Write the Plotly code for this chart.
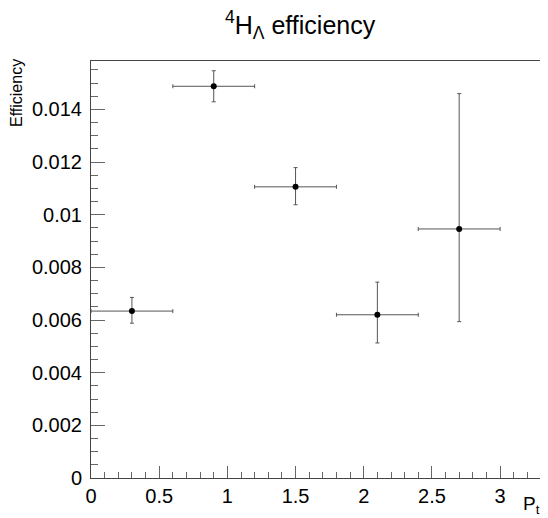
import plotly.graph_objects as go

# bin centres and half widths (Pt)
pt = [0.3, 0.9, 1.5, 2.1, 2.7]
pt_err = [0.3, 0.3, 0.3, 0.3, 0.3]

# efficiency with asymmetric errors
eff = [0.00634, 0.01488, 0.01106, 0.00620, 0.00946]
eff_up = [0.00052, 0.00059, 0.00073, 0.00124, 0.00514]
eff_down = [0.00046, 0.00059, 0.00068, 0.00107, 0.00352]

x_ticks = [0, 0.5, 1, 1.5, 2, 2.5, 3]
x_ticklabels = ["0", "0.5", "1", "1.5", "2", "2.5", "3"]
y_ticks = [0, 0.002, 0.004, 0.006, 0.008, 0.01, 0.012, 0.014]
y_ticklabels = ["0", "0.002", "0.004", "0.006", "0.008", "0.01", "0.012", "0.014"]

font = "Liberation Sans, Arial, sans-serif"
bar_col = "#555555"

fig = go.Figure()
fig.add_trace(go.Scatter(
    x=pt, y=eff, mode="markers",
    marker=dict(color="black", size=6, symbol="circle"),
    error_x=dict(type="data", array=pt_err, color=bar_col,
                 thickness=1, width=2),
    error_y=dict(type="data", symmetric=False, array=eff_up,
                 arrayminus=eff_down, color=bar_col, thickness=1, width=2),
    showlegend=False,
))

# page body adds an 8px offset, so the figure is sized to fit the window
fig.update_layout(
    width=540, height=510,
    margin=dict(l=83, r=7, t=53, b=40),
    paper_bgcolor="white", plot_bgcolor="white",
    font=dict(family=font, color="black"),
    title=dict(text="<sup>4</sup>H<sub>Λ</sub> efficiency",
               x=0.541, xanchor="center", y=0.967, yanchor="middle",
               font=dict(size=25)),
)

fig.update_xaxes(
    range=[0, 3.3], tickvals=x_ticks, ticktext=x_ticklabels,
    showgrid=False, zeroline=False,
    showline=True, linecolor="#444444", linewidth=1, mirror=True,
    ticks="inside", ticklen=12, tickcolor="#666666",
    minor=dict(dtick=0.1, ticks="inside", ticklen=6, tickcolor="#666666"),
    tickfont=dict(size=20),
)
fig.update_yaxes(
    range=[0, 0.01584], tickvals=y_ticks, ticktext=y_ticklabels,
    showgrid=False, zeroline=False,
    showline=True, linecolor="#444444", linewidth=1, mirror=True,
    ticks="inside", ticklen=14, tickcolor="#666666",
    minor=dict(dtick=0.0005, ticks="inside", ticklen=7, tickcolor="#666666"),
    tickfont=dict(size=20), ticklabelstandoff=4,
)

fig.add_annotation(text="Efficiency", xref="paper", yref="paper",
                   x=-0.164, y=1.01, xanchor="center", yanchor="top",
                   textangle=-90, showarrow=False, font=dict(size=16))
fig.add_annotation(text="P<sub>t</sub>", xref="paper", yref="paper",
                   x=1.003, y=-0.03, xanchor="right", yanchor="top",
                   showarrow=False, font=dict(size=19))

fig.write_html("out.html")
